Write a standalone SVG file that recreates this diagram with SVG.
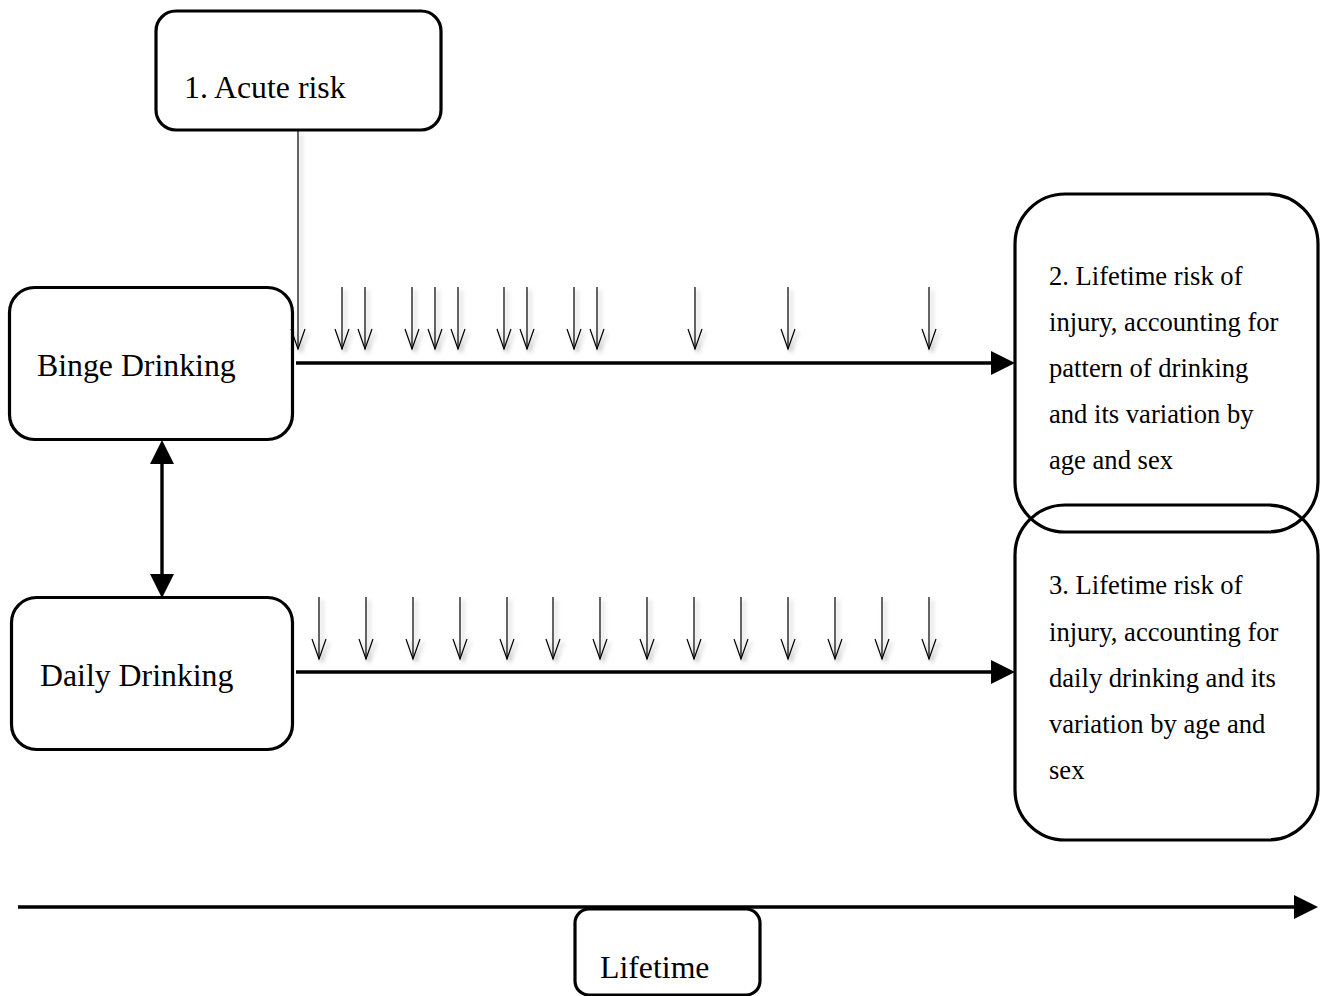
<svg xmlns="http://www.w3.org/2000/svg" width="1327" height="996" viewBox="0 0 1327 996">
<style>
.box{fill:#fff;stroke:#000;stroke-width:3.2}
.obox{fill:none;stroke:#000;stroke-width:3.2}
.t{font-family:"Liberation Serif","Times New Roman",serif;fill:#000}
.big{font-size:31.8px}
.small{font-size:26.6px}
.main{stroke:#000;stroke-width:3.4;fill:none}
.tick{stroke:#000;stroke-width:1.2;fill:none;marker-end:url(#vhead)}
</style>
<defs>
<marker id="head" markerUnits="userSpaceOnUse" markerWidth="26" markerHeight="26" refX="9" refY="12" orient="auto-start-reverse" overflow="visible">
<path d="M0,0 L24,12 L0,24 z" fill="#000"/>
</marker>
<marker id="vhead" markerUnits="userSpaceOnUse" markerWidth="22" markerHeight="16" refX="20" refY="7" orient="auto" overflow="visible">
<path d="M0,0 L20,7 L0,14" fill="none" stroke="#000" stroke-width="1.2"/>
</marker>
<filter id="shadow" x="-50%" y="-10%" width="200%" height="130%">
<feGaussianBlur in="SourceAlpha" stdDeviation="2"/>
<feOffset dx="3" dy="3" result="b"/>
<feFlood flood-color="#000" flood-opacity="0.3"/>
<feComposite in2="b" operator="in" result="s"/>
<feMerge><feMergeNode in="s"/><feMergeNode in="SourceGraphic"/></feMerge>
</filter>
</defs>

<g id="acute">
<rect class="box" x="156" y="11" width="285" height="119" rx="20"/>
<text class="t big" x="184" y="98">1. Acute risk</text>
</g>

<g id="binge">
<rect class="box" x="9.5" y="287.5" width="283" height="152" rx="25"/>
<text class="t big" x="37" y="376">Binge Drinking</text>
</g>

<g id="daily">
<rect class="box" x="11.5" y="597.5" width="281" height="152" rx="25"/>
<text class="t big" x="40" y="686">Daily Drinking</text>
</g>

<g id="lifetime2">
<rect class="obox" x="1015" y="194" width="303" height="338" rx="50"/>
<text class="t small" x="1049" y="285">2. Lifetime risk of</text>
<text class="t small" x="1049" y="331">injury, accounting for</text>
<text class="t small" x="1049" y="377">pattern of drinking</text>
<text class="t small" x="1049" y="423">and its variation by</text>
<text class="t small" x="1049" y="469">age and sex</text>
</g>

<g id="lifetime3">
<rect class="obox" x="1015" y="505" width="303" height="335" rx="50"/>
<text class="t small" x="1049" y="594">3. Lifetime risk of</text>
<text class="t small" x="1049" y="641">injury, accounting for</text>
<text class="t small" x="1049" y="687">daily drinking and its</text>
<text class="t small" x="1049" y="733">variation by age and</text>
<text class="t small" x="1049" y="779">sex</text>
</g>

<g id="lifetime">
<rect class="box" x="575" y="909" width="185" height="86" rx="14"/>
<text class="t big" x="600" y="978">Lifetime</text>
</g>

<g id="connectors">
<line class="main" x1="296" y1="363" x2="1000" y2="363" marker-end="url(#head)"/>
<line class="main" x1="296" y1="672" x2="1000" y2="672" marker-end="url(#head)"/>
<line class="main" x1="162" y1="455" x2="162" y2="583" stroke-width="4" marker-start="url(#head)" marker-end="url(#head)"/>
<line class="main" x1="18" y1="907" x2="1303" y2="907" stroke-width="4" marker-end="url(#head)"/>
<g filter="url(#shadow)">
<line class="tick" x1="298" y1="131" x2="298" y2="349"/>
<line class="tick" x1="342" y1="287" x2="342" y2="349"/>
<line class="tick" x1="365" y1="287" x2="365" y2="349"/>
<line class="tick" x1="412" y1="287" x2="412" y2="349"/>
<line class="tick" x1="435" y1="287" x2="435" y2="349"/>
<line class="tick" x1="458" y1="287" x2="458" y2="349"/>
<line class="tick" x1="504" y1="287" x2="504" y2="349"/>
<line class="tick" x1="527" y1="287" x2="527" y2="349"/>
<line class="tick" x1="574" y1="287" x2="574" y2="349"/>
<line class="tick" x1="597" y1="287" x2="597" y2="349"/>
<line class="tick" x1="695" y1="287" x2="695" y2="349"/>
<line class="tick" x1="788" y1="287" x2="788" y2="349"/>
<line class="tick" x1="929" y1="287" x2="929" y2="349"/>
<line class="tick" x1="319" y1="597" x2="319" y2="659"/>
<line class="tick" x1="366" y1="597" x2="366" y2="659"/>
<line class="tick" x1="413" y1="597" x2="413" y2="659"/>
<line class="tick" x1="460" y1="597" x2="460" y2="659"/>
<line class="tick" x1="507" y1="597" x2="507" y2="659"/>
<line class="tick" x1="553" y1="597" x2="553" y2="659"/>
<line class="tick" x1="600" y1="597" x2="600" y2="659"/>
<line class="tick" x1="647" y1="597" x2="647" y2="659"/>
<line class="tick" x1="694" y1="597" x2="694" y2="659"/>
<line class="tick" x1="741" y1="597" x2="741" y2="659"/>
<line class="tick" x1="788" y1="597" x2="788" y2="659"/>
<line class="tick" x1="835" y1="597" x2="835" y2="659"/>
<line class="tick" x1="882" y1="597" x2="882" y2="659"/>
<line class="tick" x1="929" y1="597" x2="929" y2="659"/>
</g>
</g>
</svg>
